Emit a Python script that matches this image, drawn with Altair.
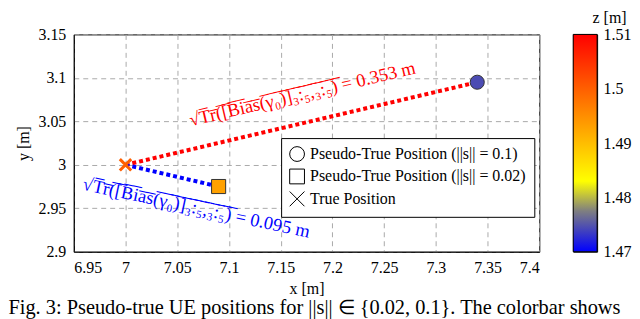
import altair as alt
import pandas as pd

# ---- data ----
x_ticks = [6.95, 7.0, 7.05, 7.1, 7.15, 7.2, 7.25, 7.3, 7.35, 7.4]
y_ticks = [2.9, 2.95, 3.0, 3.05, 3.1, 3.15]
z_ticks = [1.47, 1.48, 1.49, 1.50, 1.51]

pos_labels = [
    "Pseudo-True Position (||s|| = 0.1)",
    "Pseudo-True Position (||s|| = 0.02)",
    "True Position",
]
pos_x = [7.34, 7.09, 7.0]
pos_y = [3.095, 2.975, 3.0]
pos_z = [1.4745, 1.493, 1.5]

red_x = [7.0, 7.34]
red_y = [3.0, 3.095]
blue_x = [7.0, 7.09]
blue_y = [3.0, 2.975]

ov = "\u0305"
inner = "Tr([Bias(γ₀)]₃:₅,₃:₅)"
inner_ov = "".join(c + ov for c in inner)
ann_red = "√" + inner_ov + " = 0.353 m"
ann_blue = "√" + inner_ov + " = 0.095 m"
ann_x = [7.171, 7.0685]
ann_y = [3.0815, 2.9505]

cmap_stops = [1.47, 1.4775, 1.483, 1.4965, 1.51]
cmap_colors = ["#0000ff", "#7f7f80", "#ffff00", "#ff8000", "#ff0000"]
z_range = [1.47, 1.51]

caption = "Fig. 3: Pseudo-true UE positions for ||s|| ∈ {0.02, 0.1}. The colorbar shows"

FONT = "Liberation Serif"
xpath = "M-1,-1L1,1M-1,1L1,-1"

pts = pd.DataFrame({"x": pos_x, "y": pos_y, "z": pos_z, "label": pos_labels})
red = pd.DataFrame({"x": red_x, "y": red_y})
blue = pd.DataFrame({"x": blue_x, "y": blue_y})
ann_r = pd.DataFrame({"x": [ann_x[0]], "y": [ann_y[0]], "t": [ann_red]})
ann_b = pd.DataFrame({"x": [ann_x[1]], "y": [ann_y[1]], "t": [ann_blue]})
cbar = pd.DataFrame({"z0": [z_range[0]], "z1": [z_range[1]]})

xs = alt.Scale(domain=[6.95, 7.4], nice=False, zero=False)
ys = alt.Scale(domain=[2.9, 3.15], nice=False, zero=False)
X = alt.X("x:Q", scale=xs, title="x [m]",
          axis=alt.Axis(values=x_ticks, format="~g", titlePadding=5))
Y = alt.Y("y:Q", scale=ys, title="y [m]",
          axis=alt.Axis(values=y_ticks, format="~g"))

zscale = alt.Scale(domain=cmap_stops, range=cmap_colors, type="linear", interpolate="rgb")
color = alt.Color("z:Q", scale=zscale, legend=None)
shape = alt.Shape(
    "label:N",
    scale=alt.Scale(domain=pos_labels, range=["circle", "square", xpath]),
    legend=alt.Legend(
        title=None, orient="none", legendX=208, legendY=104,
        fillColor="white", strokeColor="black", padding=8,
        labelFontSize=16, labelFont=FONT, labelColor="black", labelLimit=400,
        symbolSize=220, symbolStrokeColor="black", symbolFillColor="white",
        symbolStrokeWidth=1, rowPadding=2.5, labelOffset=5,
    ),
)

red_line = alt.Chart(red).mark_line(color="#ff0000", strokeWidth=4, strokeDash=[4, 3]).encode(x=X, y=Y)
blue_line = alt.Chart(blue).mark_line(color="#0000ff", strokeWidth=4, strokeDash=[4, 3]).encode(x=X, y=Y)

filled_pts = alt.Chart(pts).transform_filter(
    alt.datum.label != "True Position"
).mark_point(filled=True, stroke="#333333", strokeWidth=1, size=200, opacity=1).encode(
    x=X, y=Y, color=color, shape=shape
)
true_pt = alt.Chart(pts).transform_filter(
    alt.datum.label == "True Position"
).mark_point(filled=False, strokeWidth=3, size=130, opacity=1).encode(
    x=X, y=Y, color=color, shape=shape
)

t_red = alt.Chart(ann_r).mark_text(angle=346.8, color="#ff0000", fontSize=18.5, font=FONT).encode(
    x=X, y=Y, text="t:N")
t_blue = alt.Chart(ann_b).mark_text(angle=12, color="#0000ff", fontSize=18.5, font=FONT).encode(
    x=X, y=Y, text="t:N")

main = alt.layer(red_line, blue_line, filled_pts, true_pt, t_red, t_blue).properties(
    width=467, height=218)

# colorbar: one rect filled with a gradient built from the colormap stops
span = z_range[1] - z_range[0]
grad = alt.Gradient(
    gradient="linear", x1=0, y1=1, x2=0, y2=0,
    stops=[alt.GradientStop(offset=(s - z_range[0]) / span, color=c)
           for s, c in zip(cmap_stops, cmap_colors)],
)
cb = alt.Chart(cbar).mark_rect(color=grad, stroke="black", strokeWidth=1).encode(
    y=alt.Y("z0:Q", scale=alt.Scale(domain=z_range, nice=False, zero=False),
            axis=alt.Axis(orient="right", values=z_ticks, format="~g", grid=False,
                          domain=False, title="z [m]", titleAngle=0, titleX=12,
                          titleY=-9, titleAlign="center", titleBaseline="bottom",
                          labelPadding=6)),
    y2="z1:Q",
).properties(width=24, height=218)

chart = alt.hconcat(main, cb, spacing=32).properties(
    padding={"left": 0, "top": 0, "right": 0, "bottom": 0},
    title=alt.TitleParams(text=caption, orient="bottom", anchor="start", frame="bounds",
                          fontSize=20.4, font=FONT, fontWeight="normal", color="black",
                          offset=1, dx=-7),
).configure(font=FONT).configure_view(stroke="black", strokeWidth=1).configure_axis(
    labelFont=FONT, titleFont=FONT, labelFontSize=16, titleFontSize=16,
    titleFontWeight="normal", labelColor="black", titleColor="black",
    domainColor="black", ticks=False, labelPadding=8, titlePadding=6,
    gridColor="#aaaaaa", gridDash=[5, 4], gridWidth=1,
)

chart.save("out.html", embed_options={"renderer": "svg", "actions": False})
